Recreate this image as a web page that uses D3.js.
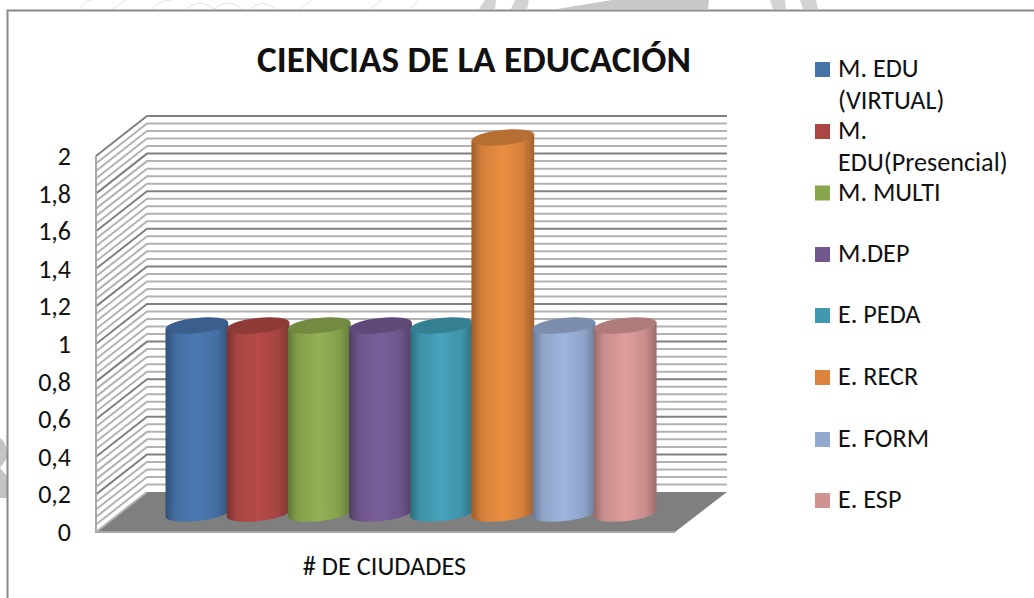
<!DOCTYPE html>
<html><head><meta charset="utf-8">
<script src="https://cdn.jsdelivr.net/npm/d3@7"></script>
<style>html,body{margin:0;padding:0;background:#fff}svg{display:block}</style>
</head><body><svg id="c" width="1034" height="598"></svg>
<script>
const chartTitle = "CIENCIAS DE LA EDUCACIÓN";
const categoryLabel = "# DE CIUDADES";
const seriesNames = ["M. EDU (VIRTUAL)","M. EDU(Presencial)","M. MULTI","M.DEP","E. PEDA","E. RECR","E. FORM","E. ESP"];
const seriesValues = [1,1,1,1,1,2,1,1];
const seriesColors = ["#4572A7","#AA4643","#89A54E","#71588F","#4198AF","#DB843D","#93A9CF","#D19392"];
const legendLines = [["M. EDU","(VIRTUAL)"],["M.","EDU(Presencial)"],["M. MULTI"],["M.DEP"],["E. PEDA"],["E. RECR"],["E. FORM"],["E. ESP"]];
const legendY = [69.5,131.5,193,254.5,315.5,377.5,439.5,500.5];
const tickValues = [0,0.2,0.4,0.6,0.8,1,1.2,1.4,1.6,1.8,2];

const FONT = "Carlito, Calibri, 'Open Sans', 'Noto Sans', sans-serif";
const svg = d3.select("#c");
const defs = svg.append("defs");
defs.append("filter").attr("id","soft").append("feGaussianBlur").attr("stdDeviation",0.55);

// watermark remnants behind the frame
const wm = svg.append("g").attr("fill","#d2d2d2");
wm.append("path").attr("d","M479,9 L485,0 L496,0 L495,9Z");
wm.append("path").attr("d","M511,9 L515,0 L529,0 L527,9Z");
wm.append("path").attr("d","M557,9 L612,0 L709,0 L708,9Z").attr("fill","#c8c8c8");
wm.append("path").attr("d","M770,0 L785,0 L786,9 L773,9Z");
wm.append("path").attr("d","M800,0 L816,0 L818,9 L803,9Z");
wm.append("path").attr("d","M0,438 C7,442 7,452 7,458 L0,468 L7,476 L7,498 L0,498Z").attr("fill","#c4c4c4");
wm.append("g").attr("fill","none").attr("stroke","#e4e4e4").attr("stroke-width",1)
  .selectAll("path").data(["M80,9 Q86,0 92,0","M112,9 L126,0","M152,9 Q160,0 172,0","M186,9 Q200,-3 214,9","M214,9 Q228,-3 242,9","M250,9 Q262,-2 276,9","M300,9 L312,0","M370,9 L382,0","M410,9 L418,0"])
  .join("path").attr("d",d=>d);

// frame
svg.append("rect").attr("x",7.5).attr("y",10.5).attr("width",1040).attr("height",600)
  .attr("fill","#fff").attr("stroke","#8a8a8a").attr("stroke-width",2);

// projected scales
const yFront = d3.scaleLinear().domain([0,2]).range([532,156]);
const yBack  = d3.scaleLinear().domain([0,2]).range([492,116]);
const yMid   = d3.scaleLinear().domain([0,2]).range([513.5,137.5]);
const xBars  = d3.scaleBand().domain(d3.range(seriesNames.length)).range([165.5,655]).paddingInner(0);
const xFront0=96, xBack0=147, xBack1=727, xFront1=675;

const plot = svg.append("g").attr("filter","url(#soft)");
// floor
plot.append("path").attr("fill","#7f7f7f")
  .attr("d",d3.line()([[xFront0,yFront(0)],[xBack0,yBack(0)],[xBack1,yBack(0)],[xFront1,yFront(0)]])+"Z");

// gridlines: major every 0.2, minor every 0.04
const gridVals = d3.range(0,51).map(i=>i/25);
gridVals.forEach((v,i)=>{
  const major = i%5===0;
  if(i===0) return;
  plot.append("path").attr("fill","none")
    .attr("stroke",major?"#808080":"#b2b2b2").attr("stroke-width",2)
    .attr("d",d3.line()([[xFront0,yFront(v)],[xBack0,yBack(v)],[xBack1,yBack(v)]]));
});
plot.append("path").attr("fill","none").attr("stroke","#b2b2b2").attr("stroke-width",2)
  .attr("d",d3.line()([[xFront0,yFront(0)],[xBack0,yBack(0)]]));
// front vertical wall edge and floor front edge
plot.append("path").attr("fill","none").attr("stroke","#a8a8a8").attr("stroke-width",2)
  .attr("d",d3.line()([[xFront0,yFront(2)],[xFront0,yFront(0)],[xFront1,yFront(0)]]));

// cylinders
const rx = xBars.bandwidth()/2+0.8, ry = 7.6, tilt = -6;
seriesValues.forEach((v,i)=>{
  const col = d3.color(seriesColors[i]);
  const gid = "g"+i;
  const g = defs.append("linearGradient").attr("id",gid).attr("x1",0).attr("x2",1).attr("y1",0).attr("y2",0);
  [[0,col.darker(0.95)],[0.16,col.darker(0.1)],[0.5,col.brighter(0.2)],[0.82,col.darker(0.1)],[1,col.darker(0.85)]]
    .forEach(([o,c])=>g.append("stop").attr("offset",o).attr("stop-color",c));
  const cx = xBars(i)+xBars.bandwidth()/2+0.8;
  const yb = yMid(0), yt = yMid(v);
  const t = tilt*Math.PI/180;
  const dy = rx*Math.sin(t);
  const bar = plot.append("g").datum(v);
  bar.append("path").attr("fill",`url(#${gid})`)
    .attr("d",`M${cx-rx},${yt-dy} L${cx-rx},${yb-dy} A${rx},${ry} ${tilt} 0 0 ${cx+rx},${yb+dy} L${cx+rx},${yt+dy} Z`);
  bar.append("ellipse").attr("cx",cx).attr("cy",yt).attr("rx",rx).attr("ry",ry)
    .attr("transform",`rotate(${tilt} ${cx} ${yt})`).attr("fill",col.darker(0.5));
});

// y axis labels
svg.append("g").selectAll("text").data(tickValues).join("text")
  .attr("x",71).attr("y",d=>yFront(d)+9)
  .attr("text-anchor","end").attr("font-family",FONT).attr("font-size",26).attr("fill","#111")
  .text(d=>String(d).replace(".",","));

// title & category
svg.append("text").attr("x",474).attr("y",71.5).attr("text-anchor","middle")
  .attr("font-family",FONT).attr("font-weight",700).attr("font-size",37.2).attr("fill","#111").text(chartTitle);
svg.append("text").attr("x",384.5).attr("y",575).attr("text-anchor","middle")
  .attr("font-family",FONT).attr("font-size",26.3).attr("fill","#111").text(categoryLabel);

// legend
const lg = svg.append("g");
seriesNames.forEach((n,i)=>{
  lg.append("rect").attr("x",815).attr("y",legendY[i]-7.5).attr("width",15).attr("height",15).attr("fill",seriesColors[i]);
  legendLines[i].forEach((l,k)=>{
    lg.append("text").attr("x",838).attr("y",legendY[i]+7.7+k*32)
      .attr("font-family",FONT).attr("font-size",26.2).attr("fill","#111").text(l);
  });
});
</script></body></html>
